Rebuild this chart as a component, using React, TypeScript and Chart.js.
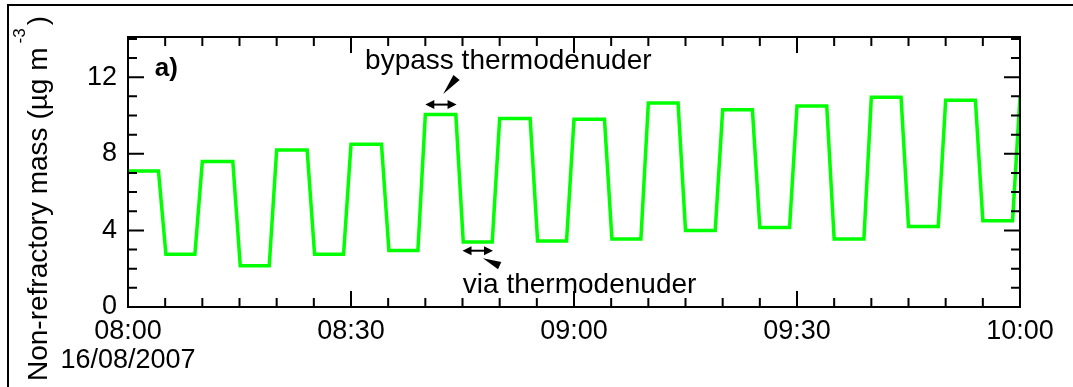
import React, { useEffect, useRef } from "react";
import { Chart, registerables } from "chart.js";

Chart.register(...registerables);

// ---- data (minutes after 08:00, 16/08/2007) ----
const minutes = [
  0, 4.1, 5.1, 9, 10, 14.1, 15.1, 19, 20, 24.1, 25.1, 29, 30, 34.1, 35.1, 39,
  40, 44.1, 45.1, 49, 50, 54.1, 55.1, 59, 60, 64.1, 65.1, 69, 70, 74, 75, 79,
  80, 84, 85, 89, 90, 94, 95, 99, 100, 104, 105, 109, 110, 114, 115, 119, 120,
];
const mass = [
  7.1, 7.1, 2.75, 2.75, 7.6, 7.6, 2.15, 2.15, 8.2, 8.2, 2.75, 2.75, 8.5, 8.5, 2.95, 2.95,
  10.05, 10.05, 3.4, 3.4, 9.85, 9.85, 3.45, 3.45, 9.8, 9.8, 3.55, 3.55, 10.65, 10.65, 4.0, 4.0,
  10.3, 10.3, 4.15, 4.15, 10.5, 10.5, 3.55, 3.55, 10.95, 10.95, 4.2, 4.2, 10.8, 10.8, 4.5, 4.5,
  11.0,
];
const xTickMinutes = [0, 30, 60, 90, 120];
const xTickLabels = ["08:00", "08:30", "09:00", "09:30", "10:00"];
const dateLabel = "16/08/2007";
const yTickValues = [0, 4, 8, 12];
const yTitleMain = "Non-refractory mass (\u00b5g m";
const yTitleSup = "-3";
const yTitleEnd = ")";
const panelLabel = "a)";
const bypassLabel = "bypass thermodenuder";
const viaLabel = "via thermodenuder";

const FONT = "'Liberation Sans', Arial, Helvetica, sans-serif";
const GREEN = "#00ff00";

const decorPlugin = {
  id: "decor",
  afterDraw(chart: any) {
    const ctx: CanvasRenderingContext2D = chart.ctx;
    const xs = chart.scales.x;
    const ys = chart.scales.y;
    const a = chart.chartArea;
    const X = (m: number) => xs.getPixelForValue(m);
    const Y = (v: number) => ys.getPixelForValue(v);
    ctx.save();
    ctx.strokeStyle = "#000";
    ctx.fillStyle = "#000";
    ctx.lineWidth = 2;
    ctx.lineCap = "butt";

    // outer frame (top & left edges visible)
    ctx.beginPath();
    ctx.moveTo(8, chart.height);
    ctx.lineTo(8, 5);
    ctx.lineTo(chart.width, 5);
    ctx.stroke();

    // plot box
    ctx.strokeRect(a.left, a.top, a.right - a.left, a.bottom - a.top);

    // inward ticks on all four sides
    ctx.beginPath();
    for (let m = 0; m <= 120; m += 5) {
      const px = X(m);
      const len = m % 30 === 0 ? 16 : 9;
      ctx.moveTo(px, a.bottom);
      ctx.lineTo(px, a.bottom - len);
      ctx.moveTo(px, a.top);
      ctx.lineTo(px, a.top + len);
    }
    for (let v = 0; v <= 14; v += 1) {
      const py = Y(v);
      const len = v % 4 === 0 ? 16 : 9;
      ctx.moveTo(a.left, py);
      ctx.lineTo(a.left + len, py);
      ctx.moveTo(a.right, py);
      ctx.lineTo(a.right - len, py);
    }
    ctx.stroke();

    // panel label
    ctx.font = `bold 26px ${FONT}`;
    ctx.textAlign = "left";
    ctx.textBaseline = "alphabetic";
    ctx.fillText(panelLabel, X(3.6), Y(12.05));

    // annotations text
    ctx.font = `28px ${FONT}`;
    ctx.fillText(bypassLabel, X(31.9), Y(12.45));
    ctx.fillText(viaLabel, X(45.05), Y(0.75));

    // double arrows
    const dbl = (m1: number, m2: number, v: number) => {
      const x1 = X(m1), x2 = X(m2), y = Y(v);
      const hl = 9, hw = 4.5;
      ctx.beginPath();
      ctx.moveTo(x1 + hl - 1, y);
      ctx.lineTo(x2 - hl + 1, y);
      ctx.stroke();
      ctx.beginPath();
      ctx.moveTo(x1, y);
      ctx.lineTo(x1 + hl, y - hw);
      ctx.lineTo(x1 + hl, y + hw);
      ctx.closePath();
      ctx.fill();
      ctx.beginPath();
      ctx.moveTo(x2, y);
      ctx.lineTo(x2 - hl, y - hw);
      ctx.lineTo(x2 - hl, y + hw);
      ctx.closePath();
      ctx.fill();
    };
    dbl(40.0, 44.2, 10.57);
    dbl(45.0, 49.1, 2.94);

    // wedge pointers
    const wedge = (tm: number, tv: number, bm: number, bv: number, hw: number) => {
      const tx = X(tm), ty = Y(tv), bx = X(bm), by = Y(bv);
      const dx = bx - tx, dy = by - ty;
      const L = Math.hypot(dx, dy);
      const nx = -dy / L, ny = dx / L;
      ctx.beginPath();
      ctx.moveTo(tx, ty);
      ctx.lineTo(bx + nx * hw, by + ny * hw);
      ctx.lineTo(bx - nx * hw, by - ny * hw);
      ctx.closePath();
      ctx.fill();
    };
    wedge(42.4, 11.12, 44.2, 11.98, 4);
    wedge(47.75, 2.55, 50.0, 2.16, 4);

    // y-axis title with superscript
    ctx.translate(47, 381);
    ctx.rotate(-Math.PI / 2);
    ctx.font = `28px ${FONT}`;
    ctx.fillText(yTitleMain, 0, 0);
    const w1 = ctx.measureText(yTitleMain).width;
    ctx.font = `17px ${FONT}`;
    const sx = w1 + 4;
    ctx.fillText(yTitleSup, sx, -22);
    const ws = ctx.measureText(yTitleSup).width;
    ctx.font = `28px ${FONT}`;
    ctx.fillText(yTitleEnd, sx + ws + 3, 0);

    ctx.restore();
  },
};

export default function App() {
  const ref = useRef<HTMLCanvasElement | null>(null);

  useEffect(() => {
    if (!ref.current) return;
    const points = minutes.map((m, i) => ({ x: m, y: mass[i] }));
    const chart = new Chart(ref.current, {
      type: "line",
      data: {
        datasets: [
          {
            data: points,
            borderColor: GREEN,
            backgroundColor: GREEN,
            borderWidth: 3.5,
            pointRadius: 0,
            borderJoinStyle: "miter",
            tension: 0,
            fill: false,
          },
        ],
      },
      options: {
        responsive: false,
        animation: false,
        devicePixelRatio: 1,
        layout: { padding: { top: 37, right: 53, left: 0, bottom: 0 } },
        plugins: {
          legend: { display: false },
          tooltip: { enabled: false },
          title: { display: false },
        },
        scales: {
          x: {
            type: "linear",
            min: 0,
            max: 120,
            afterBuildTicks: (s: any) => {
              s.ticks = xTickMinutes.map((v) => ({ value: v }));
            },
            afterFit: (s: any) => {
              s.height = 80;
            },
            grid: { display: false, drawTicks: false },
            border: { display: false },
            ticks: {
              autoSkip: false,
              maxRotation: 0,
              minRotation: 0,
              padding: 11,
              color: "#000",
              font: { family: FONT, size: 27, lineHeight: 1.04 },
              callback: (value: any) => {
                const i = xTickMinutes.indexOf(Number(value));
                if (i < 0) return "";
                return i === 0 ? [xTickLabels[i], dateLabel] : xTickLabels[i];
              },
            },
          },
          y: {
            type: "linear",
            min: 0,
            max: 14.1,
            afterBuildTicks: (s: any) => {
              s.ticks = yTickValues.map((v) => ({ value: v }));
            },
            afterFit: (s: any) => {
              s.width = 128;
            },
            grid: { display: false, drawTicks: false },
            border: { display: false },
            ticks: {
              padding: 11,
              color: "#000",
              font: { family: FONT, size: 27 },
              callback: (value: any) => String(value),
            },
          },
        },
      },
      plugins: [decorPlugin],
    } as any);
    return () => chart.destroy();
  }, []);

  return (
    <canvas
      ref={ref}
      width={1073}
      height={387}
      style={{ position: "absolute", left: 0, top: 0, width: 1073, height: 387 }}
    />
  );
}
